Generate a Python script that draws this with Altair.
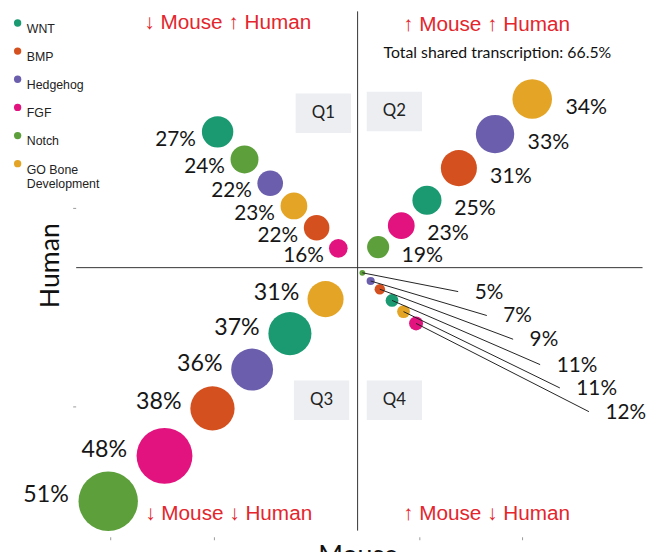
import math
import altair as alt
import pandas as pd

# ---------------- data ----------------
GENES = ["WNT", "BMP", "Hedgehog", "FGF", "Notch", "GO Bone Development"]
COLORS = ["#1b9a72", "#d5501f", "#6b5fad", "#e2127e", "#5c9f3b", "#e4a526"]

q1_gene = ["WNT", "Notch", "Hedgehog", "GO Bone Development", "BMP", "FGF"]
q1_pct = [27, 24, 22, 23, 22, 16]
q1_mouse = [-1.363, -1.101, -0.851, -0.620, -0.399, -0.188]
q1_human = [1.322, 1.053, 0.822, 0.601, 0.389, 0.188]

q2_gene = ["GO Bone Development", "Hedgehog", "BMP", "WNT", "FGF", "Notch"]
q2_pct = [34, 33, 31, 25, 23, 19]
q2_mouse = [1.700, 1.338, 0.986, 0.675, 0.425, 0.200]
q2_human = [1.642, 1.300, 0.969, 0.656, 0.409, 0.200]

q3_gene = ["GO Bone Development", "WNT", "Hedgehog", "BMP", "FGF", "Notch"]
q3_pct = [31, 37, 36, 38, 48, 51]
q3_mouse = [-0.312, -0.659, -1.027, -1.413, -1.880, -2.428]
q3_human = [-0.306, -0.642, -0.992, -1.370, -1.832, -2.274]

q4_gene = ["Notch", "Hedgehog", "BMP", "WNT", "GO Bone Development", "FGF"]
q4_pct = [5, 7, 9, 11, 11, 12]
q4_mouse = [0.046, 0.127, 0.216, 0.335, 0.447, 0.569]
q4_human = [-0.050, -0.130, -0.210, -0.319, -0.428, -0.543]
q4_leader_mouse = [0.979, 1.258, 1.514, 1.777, 1.969, 2.252]
q4_leader_human = [-0.233, -0.466, -0.697, -0.944, -1.171, -1.402]

QUADS = ["Q1", "Q2", "Q3", "Q4"]
quad_mouse = [-0.334, 0.358, -0.351, 0.358]
quad_human = [1.503, 1.521, -1.290, -1.290]

NOTES = ["↓ Mouse ↑ Human", "↑ Mouse ↑ Human", "↓ Mouse ↓ Human", "↑ Mouse ↓ Human"]
notes_mouse = [-1.264, 1.255, -1.255, 1.255]
notes_human = [2.380, 2.363, -2.399, -2.399]
SHARED = ["Total shared transcription: 66.5%"]
shared_mouse = [1.361]
shared_human = [2.085]

x_ticks = [-2.404, -1.402, 0.601, 1.603]
y_ticks = [0.585, -1.354]

# ---------------- layout ----------------
W, H = 574, 532
XDOM = [-2.745, 2.774]
YDOM = [-2.620, 2.495]
PX = W / (XDOM[1] - XDOM[0])  # pixels per data unit
DIAM_PER_PCT = 1.33
SIZE_MAX = math.pi * (DIAM_PER_PCT * 60 / 2) ** 2
LABEL_FONT = "Lato"
QUAD_FONT_SIZE = {"Q1": 21, "Q2": 21.5, "Q3": 23.5, "Q4": 21}

rows = []
for q, g, p, m, h in [("Q1", q1_gene, q1_pct, q1_mouse, q1_human),
                      ("Q2", q2_gene, q2_pct, q2_mouse, q2_human),
                      ("Q3", q3_gene, q3_pct, q3_mouse, q3_human),
                      ("Q4", q4_gene, q4_pct, q4_mouse, q4_human)]:
    for i in range(len(g)):
        rows.append(dict(quad=q, gene=g[i], pct=p[i], mouse=m[i], human=h[i], idx=i))
pts = pd.DataFrame(rows)

lab_rows = []
for _, r in pts.iterrows():
    rad = r.pct * DIAM_PER_PCT / 2 / PX
    if r.quad == "Q1":
        lx, ly, side = r.mouse - rad - 4 / PX, r.human - 8 / PX, "right"
    elif r.quad == "Q2":
        lx, ly, side = r.mouse + rad + 11 / PX, r.human - 9 / PX, "left"
    elif r.quad == "Q3":
        lx, ly, side = r.mouse - rad - 6 / PX, r.human + 6 / PX, "right"
    else:
        lx = q4_leader_mouse[r.idx] + 16.7 / PX
        ly = q4_leader_human[r.idx] - 1 / PX
        side = "left"
    lab_rows.append(dict(quad=r.quad, mouse=lx, human=ly, side=side, label=f"{r.pct}%"))
labs = pd.DataFrame(lab_rows)

leaders = pd.DataFrame(dict(mouse=q4_mouse, human=q4_human,
                            mouse2=q4_leader_mouse, human2=q4_leader_human))

BW, BH = 28 / PX, 20 / PX
boxes = pd.DataFrame(dict(quad=QUADS, mouse=quad_mouse, human=quad_human,
                          x1=[v - BW for v in quad_mouse], x2=[v + BW for v in quad_mouse],
                          y1=[v - BH for v in quad_human], y2=[v + BH for v in quad_human]))

cross = pd.DataFrame(dict(mouse=[XDOM[0] + 0.005, 0.0], mouse2=[XDOM[1], 0.0],
                          human=[0.0, YDOM[1]], human2=[0.0, -2.56]))

notes = pd.DataFrame(dict(text=NOTES, mouse=notes_mouse, human=notes_human))
shared = pd.DataFrame(dict(text=SHARED, mouse=shared_mouse, human=shared_human))

xs = alt.Scale(domain=XDOM, nice=False, zero=False)
ys = alt.Scale(domain=YDOM, nice=False, zero=False)
x_axis = alt.Axis(values=x_ticks, labels=False, domain=False, grid=False, tickSize=3,
                  tickColor="#999", titleFont=LABEL_FONT, titleFontSize=27,
                  titleFontWeight="normal", titleColor="#111", titleX=285.5, titleY=6,
                  titleBaseline="top", titleAlign="center")
y_axis = alt.Axis(values=y_ticks, labels=False, domain=False, grid=False, tickSize=3,
                  tickColor="#999", titleFont=LABEL_FONT, titleFontSize=27,
                  titleFontWeight="normal", titleColor="#111", titleX=-25.5, titleY=257,
                  titleAngle=270, titleBaseline="middle", titleAlign="center")


def X(field="mouse"):
    return alt.X(f"{field}:Q", scale=xs, axis=x_axis, title="Mouse")


def Y(field="human"):
    return alt.Y(f"{field}:Q", scale=ys, axis=y_axis, title="Human")


cross_layer = alt.Chart(cross).mark_rule(color="#333", strokeWidth=1).encode(
    x=X(), x2="mouse2:Q", y=Y(), y2="human2:Q")

box_layer = alt.Chart(boxes).mark_rect(color="#eceef1").encode(
    x=X("x1"), x2="x2:Q", y=Y("y1"), y2="y2:Q")

box_text = alt.Chart(boxes).mark_text(font=LABEL_FONT, fontSize=17, color="#222").encode(
    x=X(), y=Y(), text="quad:N")

circles = alt.Chart(pts).mark_circle(opacity=1).encode(
    x=X(), y=Y(),
    size=alt.Size("pct:Q", scale=alt.Scale(type="pow", exponent=2, domain=[0, 60],
                                           range=[0, SIZE_MAX]), legend=None),
    color=alt.Color("gene:N", scale=alt.Scale(domain=GENES, range=COLORS),
                    legend=alt.Legend(title=None, orient="none", legendX=-65, legendY=5.5,
                                      padding=0, symbolType="circle", symbolSize=55,
                                      symbolStrokeWidth=0, symbolOpacity=1,
                                      labelFont="Liberation Sans", labelFontSize=12.5,
                                      labelColor="#222", labelBaseline="top",
                                      labelOffset=3, rowPadding=9.5,
                                      labelExpr="datum.label == 'GO Bone Development' ? ['GO Bone', ' Development'] : datum.label")),
)

leader_layer = alt.Chart(leaders).mark_rule(color="#222", strokeWidth=1).encode(
    x=X(), x2="mouse2:Q", y=Y(), y2="human2:Q")

label_layers = []
for q in ["Q1", "Q2", "Q3", "Q4"]:
    sub = labs[labs.quad == q]
    label_layers.append(
        alt.Chart(sub).mark_text(font=LABEL_FONT, fontSize=QUAD_FONT_SIZE[q], color="#161616",
                                 align=sub.side.iloc[0]).encode(
            x=X(), y=Y(), text="label:N"))

note_layer = alt.Chart(notes).mark_text(
    font="Liberation Sans", fontSize=21, color="#e3262d").encode(
    x=X(), y=Y(), text="text:N")
shared_layer = alt.Chart(shared).mark_text(
    font=LABEL_FONT, fontSize=16, color="#111").encode(
    x=X(), y=Y(), text="text:N")

chart = alt.layer(cross_layer, box_layer, box_text, circles, leader_layer,
                  *label_layers, note_layer, shared_layer).properties(
    width=W, height=H,
    autosize=alt.AutoSizeParams(type="none"),
    padding={"left": 68.5, "top": 0, "right": 3.5, "bottom": 12},
    background="white",
).configure_view(stroke=None)

chart.save("out.html", embed_options={"renderer": "svg", "actions": False})
